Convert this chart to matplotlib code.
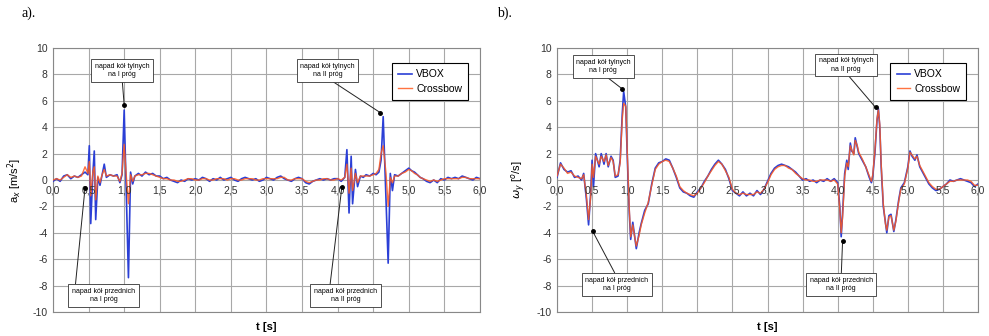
import matplotlib
matplotlib.use("Agg")
import matplotlib.pyplot as plt

# panel a) - a_x [m/s^2]
t_a = [
    0.00, 0.05, 0.10, 0.15, 0.20, 0.25, 0.30, 0.35, 0.40, 0.45,
    0.49, 0.51, 0.53, 0.56, 0.58, 0.60, 0.63, 0.66, 0.69, 0.72,
    0.75, 0.80, 0.85, 0.90, 0.94, 0.97, 1.00, 1.03, 1.06, 1.09,
    1.12, 1.15, 1.20, 1.25, 1.30, 1.35, 1.40, 1.45, 1.50, 1.55,
    1.60, 1.65, 1.70, 1.75, 1.80, 1.85, 1.90, 1.95, 2.00, 2.05,
    2.10, 2.15, 2.20, 2.25, 2.30, 2.35, 2.40, 2.45, 2.50, 2.55,
    2.60, 2.65, 2.70, 2.75, 2.80, 2.85, 2.90, 2.95, 3.00, 3.05,
    3.10, 3.15, 3.20, 3.25, 3.30, 3.35, 3.40, 3.45, 3.50, 3.55,
    3.60, 3.65, 3.70, 3.75, 3.80, 3.85, 3.90, 3.95, 4.00, 4.05,
    4.10, 4.13, 4.16, 4.19, 4.21, 4.25, 4.28, 4.32, 4.36, 4.40,
    4.45, 4.50, 4.54, 4.58, 4.61, 4.64, 4.68, 4.71, 4.74, 4.77,
    4.80, 4.85, 4.90, 4.95, 5.00, 5.04, 5.08, 5.12, 5.16, 5.20,
    5.25, 5.30, 5.35, 5.40, 5.45, 5.50, 5.55, 5.60, 5.65, 5.70,
    5.75, 5.80, 5.85, 5.90, 5.95, 6.00]
vbox_a = [
    -0.1, 0.1, -0.1, 0.3, 0.4, 0.1, 0.3, 0.2, 0.4, 0.6,
    0.4, 2.6, -3.3, 0.5, 2.2, -3.0, 0.2, -0.4, 0.4, 1.2,
    0.2, 0.4, 0.3, 0.4, -0.2, 0.4, 5.3, -1.0, -7.4, 0.6,
    -0.3, 0.3, 0.5, 0.3, 0.6, 0.4, 0.5, 0.3, 0.3, 0.1,
    0.2, 0.0, -0.1, -0.2, 0.0, -0.1, 0.1, 0.0, 0.1, 0.0,
    0.2, 0.1, -0.1, 0.1, 0.0, 0.2, 0.0, 0.1, 0.2, 0.0,
    -0.1, 0.1, 0.2, 0.1, 0.0, 0.1, -0.1, 0.0, 0.2, 0.1,
    0.0, 0.2, 0.3, 0.1, 0.0, -0.1, 0.1, 0.2, 0.1, -0.2,
    -0.3, -0.1, 0.0, 0.1, 0.0, 0.1, 0.0, 0.1, 0.1, -0.1,
    0.2, 2.3, -2.5, 1.8, -1.8, 0.8, -0.5, 0.3, 0.2, 0.4,
    0.3, 0.5, 0.4, 0.6, 1.5, 4.8, -1.5, -6.3, 0.5, -0.8,
    0.4, 0.3, 0.5, 0.7, 0.9, 0.7, 0.6, 0.4, 0.2, 0.1,
    -0.1, -0.2, 0.0, -0.2, 0.1, 0.0, 0.2, 0.1, 0.2, 0.1,
    0.3, 0.2, 0.1, 0.0, 0.2, 0.1]
xbow_a = [
    0.0, 0.1, 0.0, 0.2, 0.4, 0.2, 0.3, 0.2, 0.3, 1.0,
    0.5, 1.4, -1.2, 0.6, 1.0, -1.5, 0.3, -0.2, 0.4, 0.8,
    0.3, 0.4, 0.3, 0.3, -0.1, 0.5, 2.7, 0.3, -1.8, 0.4,
    -0.1, 0.3, 0.4, 0.4, 0.5, 0.5, 0.4, 0.3, 0.2, 0.1,
    0.1, 0.0, 0.0, -0.1, -0.1, 0.0, 0.1, 0.1, 0.0, 0.0,
    0.1, 0.1, 0.0, 0.0, 0.1, 0.1, 0.1, 0.0, 0.1, 0.1,
    0.0, 0.0, 0.1, 0.1, 0.1, 0.0, 0.0, 0.1, 0.1, 0.1,
    0.1, 0.1, 0.2, 0.2, 0.0, 0.0, 0.1, 0.1, 0.1, -0.1,
    -0.2, -0.1, 0.0, 0.0, 0.1, 0.1, 0.0, 0.0, 0.1, 0.0,
    0.2, 1.2, -1.0, 0.9, -0.8, 0.5, -0.2, 0.3, 0.3, 0.3,
    0.3, 0.4, 0.5, 0.8, 2.0, 2.6, 0.5, -2.0, 0.2, -0.2,
    0.3, 0.3, 0.5, 0.6, 0.8, 0.7, 0.5, 0.4, 0.2, 0.1,
    0.0, -0.1, 0.0, -0.1, 0.0, 0.1, 0.1, 0.1, 0.1, 0.1,
    0.2, 0.2, 0.1, 0.1, 0.1, 0.1]

# panel b) - omega_y [deg/s]
t_b = [
    0.00, 0.05, 0.10, 0.15, 0.20, 0.25, 0.30, 0.35, 0.38, 0.42,
    0.45, 0.48, 0.50, 0.52, 0.55, 0.60, 0.63, 0.67, 0.70, 0.73,
    0.77, 0.80, 0.83, 0.87, 0.90, 0.93, 0.95, 0.98, 1.00, 1.03,
    1.05, 1.08, 1.10, 1.13, 1.17, 1.20, 1.25, 1.30, 1.35, 1.40,
    1.45, 1.50, 1.55, 1.60, 1.65, 1.70, 1.75, 1.80, 1.85, 1.90,
    1.95, 2.00, 2.05, 2.10, 2.15, 2.20, 2.25, 2.30, 2.35, 2.40,
    2.45, 2.50, 2.55, 2.60, 2.65, 2.70, 2.75, 2.80, 2.85, 2.90,
    2.95, 3.00, 3.05, 3.10, 3.15, 3.20, 3.25, 3.30, 3.35, 3.40,
    3.45, 3.50, 3.55, 3.60, 3.65, 3.70, 3.75, 3.80, 3.85, 3.90,
    3.95, 4.00, 4.03, 4.05, 4.07, 4.10, 4.13, 4.15, 4.18, 4.20,
    4.23, 4.25, 4.28, 4.30, 4.35, 4.40, 4.45, 4.48, 4.50, 4.53,
    4.56, 4.58, 4.60, 4.62, 4.65, 4.68, 4.70, 4.73, 4.76, 4.80,
    4.83, 4.87, 4.90, 4.95, 5.00, 5.03, 5.06, 5.10, 5.13, 5.17,
    5.20, 5.25, 5.30, 5.35, 5.40, 5.45, 5.50, 5.55, 5.60, 5.65,
    5.70, 5.75, 5.80, 5.85, 5.90, 5.95, 6.00]
vbox_b = [
    0.2, 1.3, 0.8, 0.6, 0.7, 0.2, 0.3, 0.0, 0.5, -1.5,
    -3.4, -1.0, 1.5, -0.5, 2.0, 1.0, 2.0, 1.2, 2.0, 1.0,
    1.8, 1.5, 0.2, 0.3, 1.5, 5.0, 6.7, 5.5, 2.0, -2.5,
    -4.5, -3.2, -4.0, -5.2, -4.0, -3.3, -2.3, -1.8, -0.3, 0.9,
    1.3, 1.4, 1.6, 1.5, 0.9, 0.2, -0.6, -0.9, -1.0, -1.2,
    -1.3, -0.9, -0.6, -0.1, 0.3, 0.8, 1.2, 1.5, 1.2, 0.8,
    0.1, -0.8, -1.0, -1.2, -0.9, -1.2, -1.0, -1.2, -0.8, -1.1,
    -0.7, -0.1, 0.5, 0.9, 1.1, 1.2, 1.1, 1.0, 0.8, 0.6,
    0.3, 0.0, 0.1, -0.1, 0.0, -0.2, 0.0, -0.1, 0.1, -0.1,
    0.1, -0.2, -2.0, -4.3, -2.5, 0.5, 1.5, 0.8, 2.8, 2.2,
    2.0, 3.2, 2.5, 2.0, 1.5, 1.0, 0.2, -0.2, 0.3, 2.0,
    4.5, 5.4, 4.0, 1.0, -2.0, -3.2, -4.0, -2.7, -2.6, -3.9,
    -3.0, -1.5, -0.6, -0.2, 1.0, 2.2, 1.8, 1.5, 1.9, 1.0,
    0.7, 0.2, -0.3, -0.6, -0.8, -0.7, -0.5, -0.3, 0.0, -0.1,
    0.0, 0.1, 0.0, -0.1, -0.2, -0.5, -0.3]
xbow_b = [
    0.3, 1.2, 0.9, 0.5, 0.6, 0.3, 0.2, 0.1, 0.4, -1.2,
    -3.0, -1.3, 1.2, 0.2, 1.8, 1.2, 1.8, 1.4, 1.9, 1.1,
    1.7, 1.4, 0.3, 0.4, 1.3, 4.6, 5.8, 5.6, 2.3, -2.2,
    -4.3, -3.4, -4.1, -5.0, -4.2, -3.4, -2.5, -1.7, -0.4, 0.8,
    1.2, 1.4, 1.5, 1.4, 0.9, 0.3, -0.5, -0.8, -1.0, -1.1,
    -1.2, -1.0, -0.6, -0.2, 0.3, 0.7, 1.1, 1.4, 1.2, 0.7,
    0.2, -0.7, -1.0, -1.1, -1.0, -1.1, -1.1, -1.1, -0.9, -1.0,
    -0.7, -0.2, 0.4, 0.8, 1.0, 1.1, 1.1, 0.9, 0.8, 0.5,
    0.3, 0.1, 0.0, 0.0, -0.1, -0.1, 0.0, 0.0, 0.0, -0.1,
    0.0, -0.3, -2.2, -4.0, -2.8, 0.3, 1.3, 1.0, 2.6, 2.3,
    1.9, 3.0, 2.6, 2.1, 1.6, 1.0, 0.3, -0.1, 0.4, 2.2,
    4.6, 5.3, 4.2, 1.2, -1.8, -3.3, -3.8, -2.8, -2.7, -3.8,
    -3.1, -1.6, -0.7, -0.3, 0.9, 2.1, 1.9, 1.6, 1.8, 1.1,
    0.8, 0.3, -0.2, -0.5, -0.7, -0.7, -0.5, -0.3, -0.1, -0.1,
    0.0, 0.0, 0.0, 0.0, -0.1, -0.4, -0.4]

x_ticks = [0.0, 0.5, 1.0, 1.5, 2.0, 2.5, 3.0, 3.5, 4.0, 4.5, 5.0, 5.5, 6.0]
y_ticks = [-10, -8, -6, -4, -2, 0, 2, 4, 6, 8, 10]

# annotation texts: (text, target t, target y, box t, box y, relpos)
notes_a = [
    ("napad kół tylnych\nna I próg", 1.00, 5.7, 0.97, 8.3, (0.5, 0.0)),
    ("napad kół tylnych\nna II próg", 4.60, 5.1, 3.86, 8.3, (0.5, 0.0)),
    ("napad kół przednich\nna I próg", 0.45, -0.6, 0.71, -8.75, (0.05, 1.0)),
    ("napad kół przednich\nna II próg", 4.06, -0.5, 4.11, -8.75, (0.25, 1.0)),
]
notes_b = [
    ("napad kół tylnych\nna I próg", 0.93, 6.9, 0.66, 8.6, (0.5, 0.0)),
    ("napad kół tylnych\nna II próg", 4.54, 5.5, 4.12, 8.7, (0.5, 0.0)),
    ("napad kół przednich\nna I próg", 0.51, -3.9, 0.85, -7.9, (0.5, 1.0)),
    ("napad kół przednich\nna II próg", 4.07, -4.6, 4.05, -7.9, (0.5, 1.0)),
]

VBOX_COLOR = '#2b3fd6'
XBOW_COLOR = '#ff5a1f'
GRID_COLOR = '#a8a8a8'

plt.rcParams['font.family'] = ['Liberation Sans', 'DejaVu Sans']


def draw_panel(ax, t, vbox, xbow, notes, ylabel):
    ax.plot(t, vbox, color=VBOX_COLOR, lw=1.2, label='VBOX', zorder=3)
    ax.plot(t, xbow, color=XBOW_COLOR, lw=1.0, alpha=0.85, label='Crossbow', zorder=4)
    ax.set_xlim(0, 6)
    ax.set_ylim(-10, 10)
    ax.set_xticks(x_ticks)
    ax.set_yticks(y_ticks)
    ax.set_xticklabels([])
    ax.set_yticklabels([str(v) for v in y_ticks], fontsize=7.5, color='#333333')
    ax.tick_params(axis='both', length=0, pad=4)
    ax.grid(True, color=GRID_COLOR, lw=0.8)
    ax.set_axisbelow(True)
    for s in ax.spines.values():
        s.set_color('#888888')
        s.set_linewidth(0.8)
    # x tick labels sit just under the zero line (Excel style)
    for xt in x_ticks:
        ax.text(xt, -0.45, ('%.1f' % xt).replace('.', ','), ha='center', va='top',
                fontsize=7.5, color='#333333', zorder=5)
    ax.set_xlabel('t [s]', fontsize=8, fontweight='bold', labelpad=3)
    ax.set_ylabel(ylabel, fontsize=8, labelpad=6)
    for txt, tx, ty, bx, by, rel in notes:
        ax.annotate(txt, xy=(tx, ty), xytext=(bx, by), ha='center', va='center',
                    fontsize=5.0, zorder=6, linespacing=1.3,
                    bbox=dict(boxstyle='square,pad=0.5', fc='white', ec='#333333', lw=0.6),
                    arrowprops=dict(arrowstyle='-', color='#222222', lw=0.7,
                                    relpos=rel, shrinkA=0, shrinkB=0))
        ax.plot(tx, ty, 'o', color='black', ms=2.5, zorder=7)
    leg = ax.legend(loc='upper right', bbox_to_anchor=(0.985, 0.963), fontsize=7.5,
                    frameon=True, fancybox=False, framealpha=1, edgecolor='black',
                    handlelength=1.3, borderpad=0.6, labelspacing=0.45, handletextpad=0.4)
    leg.get_frame().set_linewidth(0.8)
    leg.set_zorder(8)


fig = plt.figure(figsize=(9.89, 3.36), dpi=100)
ax1 = fig.add_axes([0.0536, 0.0714, 0.4317, 0.7857])
ax2 = fig.add_axes([0.5632, 0.0714, 0.4257, 0.7857])

draw_panel(ax1, t_a, vbox_a, xbow_a, notes_a, r'a$_x$ [m/s$^2$]')
draw_panel(ax2, t_b, vbox_b, xbow_b, notes_b, r'$\omega_y$ [$^o$/s]')

fig.text(0.022, 0.96, 'a).', fontsize=10, family='Liberation Serif', va='center')
fig.text(0.503, 0.96, 'b).', fontsize=10, family='Liberation Serif', va='center')

fig.savefig('out.png', dpi=100)
